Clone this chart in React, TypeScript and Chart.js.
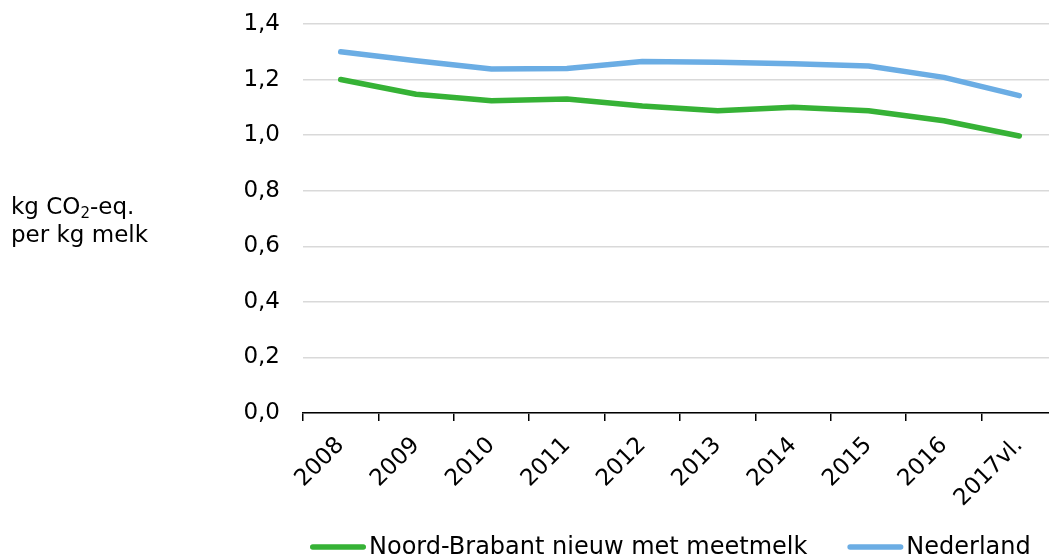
import React, { useEffect, useRef } from "react";
import { Chart, registerables } from "chart.js";

Chart.register(...registerables);

const categories = ["2008", "2009", "2010", "2011", "2012", "2013", "2014", "2015", "2016", "2017vl."];
const noordBrabant = [1.2, 1.147, 1.124, 1.13, 1.105, 1.088, 1.1, 1.088, 1.052, 0.997];
const nederland = [1.3, 1.268, 1.238, 1.24, 1.265, 1.262, 1.257, 1.249, 1.208, 1.142];
const seriesLabels = ["Noord-Brabant nieuw met meetmelk", "Nederland"];
const yMin = 0;
const yMax = 1.4;
const yStep = 0.2;

const FONT = "DejaVu Sans";
const GREEN = "#36b236";
const BLUE = "#6badE4";

const legendPlugin = {
  id: "customLegend",
  afterDraw(chart: any) {
    const ctx = chart.ctx;
    ctx.save();
    ctx.font = `24px "${FONT}"`;
    ctx.textBaseline = "middle";
    ctx.fillStyle = "#000";
    const y = 547;
    let x = 310;
    chart.data.datasets.forEach((ds: any) => {
      ctx.strokeStyle = ds.borderColor;
      ctx.lineWidth = 5.5;
      ctx.lineCap = "round";
      ctx.beginPath();
      ctx.moveTo(x + 2.75, y);
      ctx.lineTo(x + 56 - 2.75, y);
      ctx.stroke();
      const tx = x + 59;
      ctx.fillText(ds.label, tx, y + 1);
      const w = ctx.measureText(ds.label).width;
      x = tx + w + 40;
    });
    ctx.restore();
  },
};

export default function App() {
  const ref = useRef<HTMLCanvasElement | null>(null);
  useEffect(() => {
    if (!ref.current) return;
    const chart = new Chart(ref.current, {
      type: "line",
      data: {
        labels: categories,
        datasets: [
          {
            label: seriesLabels[0],
            data: noordBrabant,
            borderColor: GREEN,
            backgroundColor: GREEN,
            borderWidth: 5.5,
            pointRadius: 0,
            tension: 0,
            borderCapStyle: "round",
            borderJoinStyle: "round",
          },
          {
            label: seriesLabels[1],
            data: nederland,
            borderColor: BLUE,
            backgroundColor: BLUE,
            borderWidth: 5.5,
            pointRadius: 0,
            tension: 0,
            borderCapStyle: "round",
            borderJoinStyle: "round",
          },
        ],
      },
      options: {
        responsive: false,
        animation: false,
        layout: { padding: { left: 0, right: 3, top: 24, bottom: 0 } },
        plugins: {
          legend: { display: false },
          tooltip: { enabled: false },
        },
        scales: {
          x: {
            type: "category",
            offset: true,
            grid: {
              offset: true,
              drawOnChartArea: false,
              drawTicks: true,
              tickLength: 8,
              color: "#000",
              lineWidth: 1.5,
            },
            border: { display: true, color: "#000", width: 1.5 },
            ticks: {
              maxRotation: 45,
              minRotation: 45,
              autoSkip: false,
              padding: 11,
              color: "#000",
              font: { family: FONT, size: 23 },
            },
            afterFit: (s: any) => {
              s.height = 145;
              s.paddingLeft = 0;
              s.paddingRight = 0;
            },
          },
          y: {
            min: yMin,
            max: yMax,
            ticks: {
              stepSize: yStep,
              padding: 23,
              color: "#000",
              font: { family: FONT, size: 23 },
              callback: (v: any) => Number(v).toFixed(1).replace(".", ","),
            },
            grid: { color: "#d9d9d9", lineWidth: 1.5, drawTicks: false },
            border: { display: false },
            afterFit: (s: any) => {
              s.width = 303;
              s.paddingTop = 0;
              s.paddingBottom = 0;
            },
          },
        },
      },
      plugins: [legendPlugin],
    });
    return () => chart.destroy();
  }, []);

  return (
    <div
      style={{
        position: "fixed",
        left: 0,
        top: 0,
        width: 1049,
        height: 558,
        overflow: "hidden",
        background: "#fff",
      }}
    >
      <canvas ref={ref} width={1060} height={558} style={{ display: "block" }} />
      <div
        style={{
          position: "absolute",
          left: 11,
          top: 192,
          fontFamily: FONT,
          fontSize: 23,
          lineHeight: "28px",
          color: "#000",
          textAlign: "left",
          whiteSpace: "nowrap",
        }}
      >
        kg CO<sub style={{ fontSize: 15, lineHeight: 0, verticalAlign: "-4px" }}>2</sub>-eq.
        <br />
        per kg melk
      </div>
    </div>
  );
}
